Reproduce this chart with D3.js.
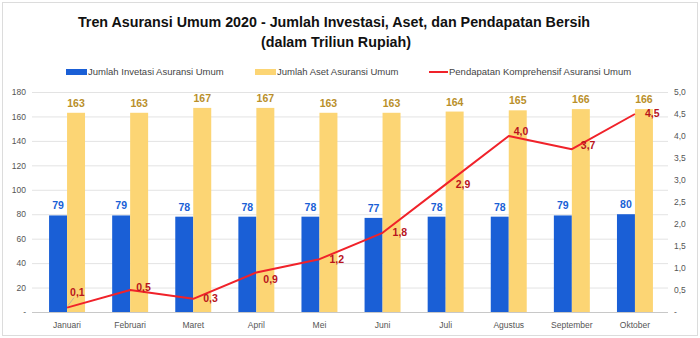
<!DOCTYPE html>
<html><head><meta charset="utf-8">
<script src="https://cdn.jsdelivr.net/npm/d3@7/dist/d3.min.js"></script>
<style>body{margin:0;background:#fff;}svg{display:block;font-family:"Liberation Sans",Arial,sans-serif;}</style>
</head><body><svg id="c" width="700" height="338"></svg>
<script>
const months = ["Januari","Februari","Maret","April","Mei","Juni","Juli","Agustus","September","Oktober"];
const investasi = [79,79,78,78,78,77,78,78,79,80];
const aset = [163,163,167,167,163,163,164,165,166,166];
const pendapatan = [0.1,0.5,0.3,0.9,1.2,1.8,2.9,4.0,3.7,4.5];
const leftTicks = [0,20,40,60,80,100,120,140,160,180];
const rightTicks = [0,0.5,1,1.5,2,2.5,3,3.5,4,4.5,5];
const seriesNames = ["Jumlah Invetasi Asuransi Umum","Jumlah Aset Asuransi Umum","Pendapatan Komprehensif Asuransi Umum"];

const svg = d3.select("#c");
const C = {blue:"#1a5fd6", yellow:"#fcd574", red:"#f0222a", blueLbl:"#1a5fd6", yelLbl:"#b98f2a", redLbl:"#b8141c", grid:"#e3e3e3", axis:"#555"};

svg.append("rect").attr("x",2.5).attr("y",2.5).attr("width",695).attr("height",333)
  .attr("fill","#fff").attr("stroke","#dcdcdc");

svg.append("text").attr("x",334).attr("y",27).attr("text-anchor","middle")
  .attr("font-size",14.3).attr("font-weight","bold").attr("fill","#111")
  .text("Tren Asuransi Umum 2020 - Jumlah Investasi, Aset, dan Pendapatan Bersih");
svg.append("text").attr("x",336).attr("y",47).attr("text-anchor","middle")
  .attr("font-size",14.3).attr("font-weight","bold").attr("fill","#111")
  .text("(dalam Triliun Rupiah)");

const x = d3.scaleBand().domain(months).range([35.5,666.5]).paddingInner(0.43).paddingOuter(0.215);
const y = d3.scaleLinear().domain([0,180]).range([312,92]);
const y2 = d3.scaleLinear().domain([0,5]).range([312,92]);
const bw = x.bandwidth()/2;

// gridlines
svg.append("g").selectAll("line").data(leftTicks).join("line")
  .attr("x1",32).attr("x2",668).attr("y1",d=>y(d)+0.5).attr("y2",d=>y(d)+0.5)
  .attr("stroke",d=>d===0?"#c8c8c8":C.grid);

// left axis
const fmtL = d => d===0 ? "-" : d;
svg.append("g").attr("transform","translate(26,0)")
  .call(d3.axisLeft(y).tickValues(leftTicks).tickFormat(fmtL).tickSize(0).tickPadding(0))
  .call(g=>{g.select(".domain").remove(); g.selectAll("text").attr("font-size",8.5).attr("fill",C.axis).attr("font-family","Liberation Sans, Arial, sans-serif");});
// right axis
const fmtR = d => d===0 ? "-" : d3.format(".1f")(d).replace(".",",");
svg.append("g").attr("transform","translate(674,0)")
  .call(d3.axisRight(y2).tickValues(rightTicks).tickFormat(fmtR).tickSize(0).tickPadding(0))
  .call(g=>{g.select(".domain").remove(); g.selectAll("text").attr("font-size",8.5).attr("fill",C.axis).attr("font-family","Liberation Sans, Arial, sans-serif");});
// x axis labels
svg.append("g").attr("transform","translate(0,312)")
  .call(d3.axisBottom(x).tickSize(0).tickPadding(10))
  .call(g=>{g.select(".domain").remove(); g.selectAll("text").attr("font-size",8.5).attr("fill",C.axis).attr("font-family","Liberation Sans, Arial, sans-serif");});

// bars
svg.append("g").selectAll("rect").data(investasi).join("rect")
  .attr("x",(d,i)=>x(months[i])).attr("y",d=>y(d)).attr("width",bw).attr("height",d=>y(0)-y(d)).attr("fill",C.blue);
svg.append("g").selectAll("rect").data(aset).join("rect")
  .attr("x",(d,i)=>x(months[i])+bw).attr("y",d=>y(d)).attr("width",bw).attr("height",d=>y(0)-y(d)).attr("fill",C.yellow);

// bar labels
svg.append("g").selectAll("text").data(investasi).join("text")
  .attr("x",(d,i)=>x(months[i])+bw/2).attr("y",d=>y(d)-6).attr("text-anchor","middle")
  .attr("font-size",10.5).attr("font-weight","bold").attr("fill",C.blueLbl).text(d=>d);
svg.append("g").selectAll("text").data(aset).join("text")
  .attr("x",(d,i)=>x(months[i])+bw*1.5).attr("y",d=>y(d)-6).attr("text-anchor","middle")
  .attr("font-size",10.5).attr("font-weight","bold").attr("fill",C.yelLbl).text(d=>d);

// line
const cx = i => x(months[i]) + x.bandwidth()/2;
const line = d3.line().x((d,i)=>cx(i)).y(d=>y2(d));
svg.append("path").datum(pendapatan).attr("d",line).attr("fill","none")
  .attr("stroke",C.red).attr("stroke-width",2).attr("stroke-linejoin","round");

// line labels (placement nudges)
const ldx = [3,6,10,7,10,10,10,5,9,10];
const ldy = [-15,-3,0,7,0,0,0,-5,-4,-1];
// leader for first label
svg.append("line").attr("x1",cx(0)+1).attr("y1",y2(pendapatan[0])-2).attr("x2",cx(0)+7).attr("y2",y2(pendapatan[0])-10)
  .attr("stroke","#aaa").attr("stroke-width",0.8);
svg.append("g").selectAll("text").data(pendapatan).join("text")
  .attr("x",(d,i)=>cx(i)+ldx[i]).attr("y",(d,i)=>y2(d)+ldy[i]).attr("dy","0.35em")
  .attr("font-size",10.5).attr("font-weight","bold").attr("fill",C.redLbl)
  .text(d=>d3.format(".1f")(d).replace(".",","));

// legend
const lg = svg.append("g").attr("font-size",9.5).attr("fill","#444");
const lx = [66,255,429];
lg.append("rect").attr("x",lx[0]).attr("y",69).attr("width",21).attr("height",6).attr("fill",C.blue);
lg.append("rect").attr("x",lx[1]).attr("y",69).attr("width",21).attr("height",6).attr("fill",C.yellow);
lg.append("line").attr("x1",lx[2]).attr("x2",lx[2]+19).attr("y1",72).attr("y2",72).attr("stroke",C.red).attr("stroke-width",2);
seriesNames.forEach((s,i)=>{
  lg.append("text").attr("x",lx[i]+(i===2?20:22)).attr("y",72).attr("dy","0.35em").attr("fill","#444").text(s);
});
</script></body></html>
